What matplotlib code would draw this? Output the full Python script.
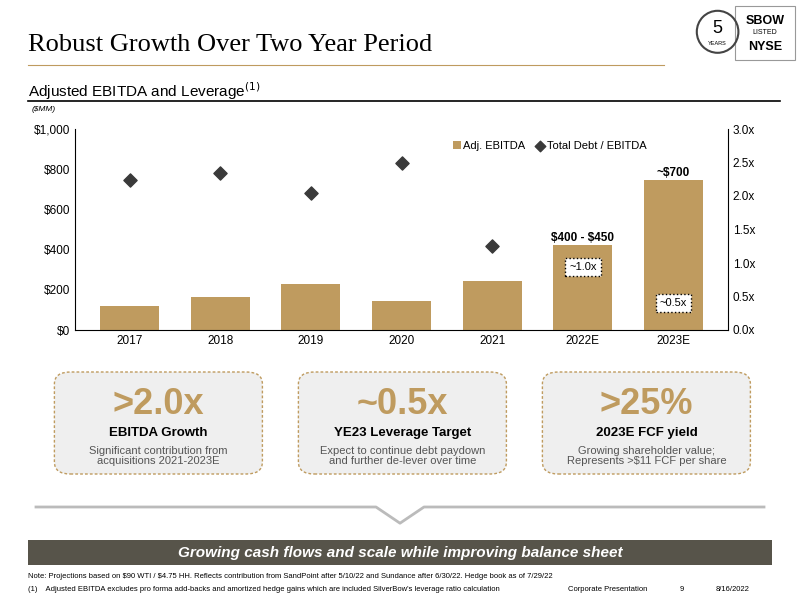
import matplotlib
matplotlib.use("Agg")
import matplotlib.pyplot as plt
from matplotlib.patches import FancyBboxPatch, Rectangle, Ellipse
from matplotlib.lines import Line2D

years = ["2017", "2018", "2019", "2020", "2021", "2022E", "2023E"]
ebitda = [120, 165, 230, 145, 245, 425, 745]
lev_years = ["2017", "2018", "2019", "2020", "2021"]
leverage = [2.24, 2.34, 2.05, 2.5, 1.25]
gold = "#BF9B5F"

plt.rcParams['font.family'] = ['Liberation Sans', 'DejaVu Sans']
fig = plt.figure(figsize=(8, 6), dpi=100)

fig.text(0.035, 0.925, "Robust Growth Over Two Year Period", fontsize=19, family="Liberation Serif", va="center")
fig.add_artist(Line2D([0.035, 0.83], [0.892, 0.892], color=gold, lw=0.8))
fig.text(0.035, 0.848, "Adjusted EBITDA and Leverage$^{(1)}$", fontsize=11, va="center")
fig.add_artist(Line2D([0.035, 0.975], [0.832, 0.832], color="black", lw=1.2))
fig.text(0.04, 0.818, "(\\$MM)", fontsize=6, style="italic", va="center")

fig.add_artist(Rectangle((0.919, 0.9), 0.075, 0.09, fill=False, ec="#999", lw=0.8))
fig.text(0.956, 0.965, "SBOW", fontsize=9, weight="bold", ha="center", va="center")
fig.text(0.956, 0.945, "LISTED", fontsize=5, ha="center", va="center")
fig.text(0.956, 0.922, "NYSE", fontsize=9, weight="bold", ha="center", va="center")
fig.add_artist(Ellipse((0.897, 0.947), 0.052, 0.07, fill=False, ec="#444", lw=1.5))
fig.text(0.897, 0.953, "5", fontsize=13, ha="center", va="center")
fig.text(0.897, 0.928, "YEARS", fontsize=4, ha="center", va="center")

ax = fig.add_axes([0.094, 0.45, 0.816, 0.335])
x = range(len(years))
ax.bar(x, ebitda, width=0.65, color=gold, label="Adj. EBITDA", zorder=2)
ax.set_ylim(0, 1000)
ax.set_xlim(-0.6, 6.6)
ax.set_yticks(range(0, 1001, 200))
ax.set_yticklabels([f"\\${v:,}" for v in range(0, 1001, 200)], fontsize=8.5)
ax.set_xticks(list(x))
ax.set_xticklabels(years, fontsize=8.5)
for s in ["top", "right"]:
    ax.spines[s].set_visible(False)
ax.tick_params(length=0)
ax2 = ax.twinx()
ax2.set_ylim(0, 3.0)
ax2.set_yticks([0, 0.5, 1, 1.5, 2, 2.5, 3])
ax2.set_yticklabels([f"{v:.1f}x" for v in [0, 0.5, 1, 1.5, 2, 2.5, 3]], fontsize=8.5)
ax2.tick_params(length=0)
for s in ["top", "left", "bottom"]:
    ax2.spines[s].set_visible(False)
ax2.scatter([years.index(y) for y in lev_years], leverage, marker="D", s=45, color="#3a3a3a", label="Total Debt / EBITDA", zorder=3)
ax.text(5, ebitda[5] + 20, "\\$400 - \\$450", ha="center", fontsize=8.5, weight="bold")
ax.text(6, ebitda[6] + 20, "~\\$700", ha="center", fontsize=8.5, weight="bold")
ax2.text(5, 0.94, "~1.0x", ha="center", va="center", fontsize=8,
         bbox=dict(boxstyle="square,pad=0.35", fc="white", ec="black", ls=":"))
ax2.text(6, 0.4, "~0.5x", ha="center", va="center", fontsize=8,
         bbox=dict(boxstyle="square,pad=0.35", fc="white", ec="black", ls=":"))
h1, l1 = ax.get_legend_handles_labels()
h2, l2 = ax2.get_legend_handles_labels()
ax2.legend(h1 + h2, l1 + l2, loc="upper right", bbox_to_anchor=(0.89, 0.99), ncol=2, frameon=False,
           fontsize=8, handlelength=0.7, handletextpad=0.2, columnspacing=1.0, markerscale=0.8)

boxes = [(0.068, ">2.0x", "EBITDA Growth", "Significant contribution from\nacquisitions 2021-2023E"),
         (0.373, "~0.5x", "YE23 Leverage Target", "Expect to continue debt paydown\nand further de-lever over time"),
         (0.678, ">25%", "2023E FCF yield", "Growing shareholder value;\nRepresents >\\$11 FCF per share")]
for bx, big, head, sub in boxes:
    fig.add_artist(FancyBboxPatch((bx, 0.21), 0.26, 0.17, boxstyle="round,pad=0,rounding_size=0.02",
                                  fc="#EFEFEF", ec=gold, lw=1, ls=(0, (2, 1.5))))
    cx = bx + 0.13
    fig.text(cx, 0.325, big, fontsize=26, weight="bold", color=gold, ha="center", va="center")
    fig.text(cx, 0.278, head, fontsize=9.5, weight="bold", ha="center", va="center")
    fig.text(cx, 0.24, sub, fontsize=8, color="#555", ha="center", va="center", linespacing=1.1)

fig.add_artist(Line2D([0.045, 0.47, 0.5, 0.53, 0.955], [0.155, 0.155, 0.128, 0.155, 0.155], color="#bbb", lw=2))
fig.add_artist(Rectangle((0.035, 0.058), 0.93, 0.042, fc="#57544A", ec="none"))
fig.text(0.5, 0.079, "Growing cash flows and scale while improving balance sheet", fontsize=11,
         weight="bold", style="italic", color="white", ha="center", va="center")
fig.text(0.035, 0.036, "Note: Projections based on \\$90 WTI / \\$4.75 HH. Reflects contribution from SandPoint after 5/10/22 and Sundance after 6/30/22. Hedge book as of 7/29/22", fontsize=5.5)
fig.text(0.035, 0.015, "(1)    Adjusted EBITDA excludes pro forma add-backs and amortized hedge gains which are included SilverBow's leverage ratio calculation", fontsize=5.5)
fig.text(0.71, 0.015, "Corporate Presentation", fontsize=5.5)
fig.text(0.85, 0.015, "9", fontsize=5.5)
fig.text(0.895, 0.015, "8/16/2022", fontsize=5.5)

fig.savefig("out.png", dpi=100)
